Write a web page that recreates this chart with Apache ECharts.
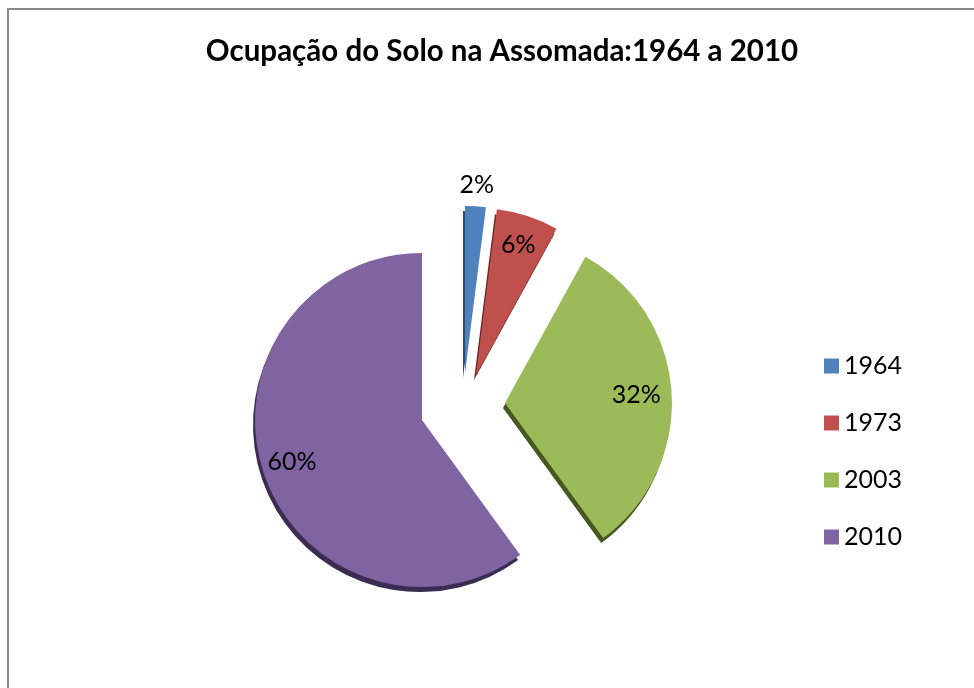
<!DOCTYPE html>
<html>
<head>
<meta charset="utf-8">
<script src="https://cdn.jsdelivr.net/npm/echarts@6/dist/echarts.min.js"></script>
<style>
  html, body { margin: 0; padding: 0; background: #fff; }
  #main { width: 974px; height: 688px; }
</style>
</head>
<body>
<div id="main"></div>
<script>
// dados do gráfico
var anos = ['1964', '1973', '2003', '2010'];
var percentagens = [2, 6, 32, 60];

// estilo
var cores = ['#4f81bd', '#c0504d', '#9bbb59', '#8064a2'];
var sombras = ['#2d4b70', '#6c2a28', '#46571f', '#3b2d52'];
// centro de cada fatia (fatias destacadas como no Excel)
var centros = [[465, 373], [476, 375], [505, 403], [422, 420]];
var raioLabel = [1.11, 0.8, 0.77, 0.8];
var R = 167;

var myChart = echarts.init(document.getElementById('main'));

var total = percentagens.reduce(function (a, b) { return a + b; }, 0);
var acumulado = 0;
var series = anos.map(function (ano, i) {
  var meio = (acumulado + percentagens[i] / 2) / total * 2 * Math.PI;
  acumulado += percentagens[i];
  var k = (raioLabel[i] - 0.5) * R;
  var data = percentagens.map(function (v, j) {
    if (j !== i) {
      return { value: v, name: anos[j], itemStyle: { color: 'rgba(0,0,0,0)' }, label: { show: false } };
    }
    return {
      value: v,
      name: anos[j],
      itemStyle: { color: cores[j], shadowColor: sombras[j], shadowOffsetX: -2, shadowOffsetY: 5, shadowBlur: 0 },
      label: { show: true, offset: [Math.sin(meio) * k, -Math.cos(meio) * k] }
    };
  });
  return {
    type: 'pie',
    center: centros[i],
    radius: R,
    startAngle: 90,
    clockwise: true,
    silent: true,
    animation: false,
    avoidLabelOverlap: false,
    itemStyle: { borderWidth: 0 },
    label: { position: 'inside', formatter: '{d}%', color: '#000', fontFamily: 'Lato', fontSize: 25 },
    labelLine: { show: false },
    data: data
  };
});

var option = {
  backgroundColor: '#fff',
  title: {
    text: 'Ocupação do Solo na Assomada:1964 a 2010',
    left: 497,
    textAlign: 'center',
    top: 31,
    textStyle: { fontFamily: 'Lato', fontWeight: 'bold', fontSize: 29.5, color: '#000' }
  },
  legend: {
    orient: 'vertical',
    left: 819,
    top: 346,
    icon: 'rect',
    itemWidth: 15,
    itemHeight: 15,
    itemGap: 27,
    textStyle: { fontFamily: 'Lato', fontSize: 25, color: '#000', lineHeight: 30 },
    data: anos.map(function (a, i) { return { name: a, itemStyle: { color: cores[i] } }; })
  },
  graphic: [{
    type: 'rect',
    shape: { x: 8, y: 9, width: 1000, height: 700 },
    style: { fill: 'none', stroke: '#888', lineWidth: 2 },
    silent: true
  }],
  series: series
};

myChart.setOption(option);
</script>
</body>
</html>
